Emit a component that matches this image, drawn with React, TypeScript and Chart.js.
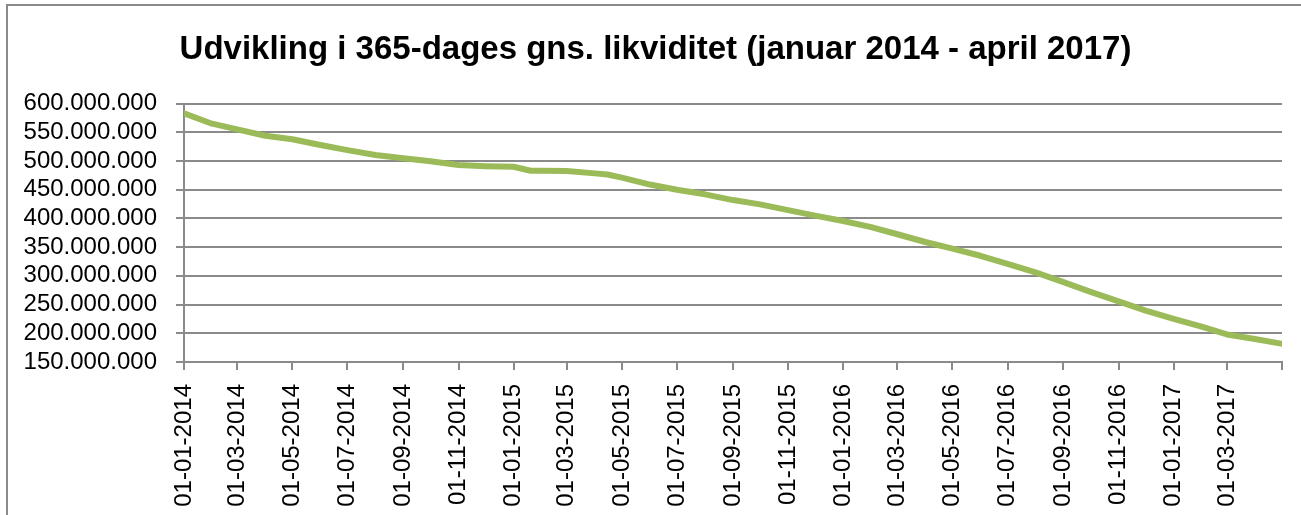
import React, { useEffect, useRef } from "react";
import { Chart, registerables } from "chart.js";

Chart.register(...registerables);

const titleText = "Udvikling i 365-dages gns. likviditet (januar 2014 - april 2017)";

// Dates of the read points and the 365-day average liquidity (in millions)
const dates = [
  "2014-01-01", "2014-02-01", "2014-03-01", "2014-04-01", "2014-05-01", "2014-06-01",
  "2014-07-01", "2014-08-01", "2014-09-01", "2014-10-01", "2014-11-01", "2014-12-01",
  "2015-01-01", "2015-01-20", "2015-02-01", "2015-03-01", "2015-04-01", "2015-04-15",
  "2015-05-01", "2015-06-01", "2015-07-01", "2015-08-01", "2015-09-01", "2015-10-01",
  "2015-11-01", "2015-12-01", "2016-01-01", "2016-02-01", "2016-03-01", "2016-04-01",
  "2016-05-01", "2016-06-01", "2016-07-01", "2016-08-01", "2016-09-01", "2016-10-01",
  "2016-11-01", "2016-12-01", "2017-01-01", "2017-02-01", "2017-03-01", "2017-04-01",
  "2017-04-30",
];
const valuesMio = [
  583, 565, 555, 544, 538, 528,
  519, 510.5, 505, 499.5, 493, 491,
  490, 483, 483, 482.5, 478.5, 476.5,
  471, 459, 450, 442, 432, 424.5,
  414.5, 405, 395.5, 385, 372.5, 359,
  347.5, 335, 321, 306, 289, 272,
  255.5, 239.5, 225, 211.5, 198, 190,
  182,
];

const xTickDates = [
  "2014-01-01", "2014-03-01", "2014-05-01", "2014-07-01", "2014-09-01", "2014-11-01",
  "2015-01-01", "2015-03-01", "2015-05-01", "2015-07-01", "2015-09-01", "2015-11-01",
  "2016-01-01", "2016-03-01", "2016-05-01", "2016-07-01", "2016-09-01", "2016-11-01",
  "2017-01-01", "2017-03-01", "2017-05-01",
];
const xTickLabels = [
  "01-01-2014", "01-03-2014", "01-05-2014", "01-07-2014", "01-09-2014", "01-11-2014",
  "01-01-2015", "01-03-2015", "01-05-2015", "01-07-2015", "01-09-2015", "01-11-2015",
  "01-01-2016", "01-03-2016", "01-05-2016", "01-07-2016", "01-09-2016", "01-11-2016",
  "01-01-2017", "01-03-2017", "",
];

const yTickValues = [150e6, 200e6, 250e6, 300e6, 350e6, 400e6, 450e6, 500e6, 550e6, 600e6];
const yTickLabels = [
  "150.000.000", "200.000.000", "250.000.000", "300.000.000", "350.000.000",
  "400.000.000", "450.000.000", "500.000.000", "550.000.000", "600.000.000",
];

const dayIndex = (s: string) => {
  const [y, m, d] = s.split("-").map(Number);
  return Math.round((Date.UTC(y, m - 1, d) - Date.UTC(2014, 0, 1)) / 86400000);
};

const W = 1301;
const H = 515;

export default function App() {
  const ref = useRef<HTMLCanvasElement | null>(null);

  useEffect(() => {
    if (!ref.current) return;
    const xTicks = xTickDates.map(dayIndex);
    const gridColor = "#8a8a8a";
    const font = "'Liberation Sans', Arial, sans-serif";
    const shiftTitle = {
      id: "shiftTitle",
      afterLayout(chart: any) {
        const tb = chart.titleBlock;
        if (tb) tb.left = tb.left + 29;
      },
    };
    const chart = new Chart(ref.current, {
      type: "line",
      data: {
        datasets: [
          {
            data: dates.map((d, i) => ({ x: dayIndex(d), y: valuesMio[i] * 1e6 })),
            borderColor: "#9BBB59",
            backgroundColor: "#9BBB59",
            borderWidth: 6,
            pointRadius: 0,
            tension: 0,
            borderCapStyle: "round",
            borderJoinStyle: "round",
          },
        ],
      },
      plugins: [shiftTitle],
      options: {
        responsive: false,
        animation: false,
        devicePixelRatio: 1,
        layout: { padding: { top: 10, left: 0, right: 19, bottom: 0 } },
        plugins: {
          legend: { display: false },
          tooltip: { enabled: false },
          title: {
            display: true,
            text: titleText,
            color: "#000",
            font: { family: font, size: 33, weight: "bold", lineHeight: 1.2 },
            padding: { top: 20, bottom: 34 },
          },
        },
        scales: {
          x: {
            type: "linear",
            min: xTicks[0],
            max: xTicks[xTicks.length - 1],
            afterBuildTicks: (scale: any) => {
              scale.ticks = xTicks.map((v) => ({ value: v }));
            },
            afterFit: (scale: any) => {
              scale.height = 153;
              scale.paddingLeft = 0;
              scale.paddingRight = 0;
            },
            ticks: {
              autoSkip: false,
              minRotation: 90,
              maxRotation: 90,
              padding: 14,
              color: "#000",
              font: { family: font, size: 24 },
              callback: (value: any) => {
                const idx = xTicks.indexOf(Number(value));
                return idx >= 0 ? xTickLabels[idx] : "";
              },
            },
            grid: {
              drawOnChartArea: false,
              drawTicks: true,
              tickLength: 8,
              color: gridColor,
              lineWidth: 2,
            },
            border: { display: true, color: gridColor, width: 2 },
          },
          y: {
            type: "linear",
            min: yTickValues[0],
            max: yTickValues[yTickValues.length - 1],
            afterBuildTicks: (scale: any) => {
              scale.ticks = yTickValues.map((v) => ({ value: v }));
            },
            afterFit: (scale: any) => {
              scale.width = 184;
            },
            ticks: {
              autoSkip: false,
              padding: 19,
              color: "#000",
              font: { family: font, size: 24 },
              callback: (value: any) => {
                const idx = yTickValues.indexOf(Number(value));
                return idx >= 0 ? yTickLabels[idx] : "";
              },
            },
            grid: {
              drawOnChartArea: true,
              drawTicks: true,
              tickLength: 8,
              color: gridColor,
              lineWidth: 2,
            },
            border: { display: true, color: gridColor, width: 2 },
          },
        },
      },
    } as any);
    return () => chart.destroy();
  }, []);

  return (
    <div
      style={{
        position: "fixed",
        left: 0,
        top: 0,
        width: W,
        height: H,
        overflow: "hidden",
        background: "#fff",
      }}
    >
      <div
        style={{
          position: "absolute",
          left: 6,
          top: 4,
          width: 1500,
          height: 800,
          border: "2px solid #8a8a8a",
          boxSizing: "border-box",
        }}
      />
      <canvas
        ref={ref}
        width={W}
        height={H}
        style={{ position: "absolute", left: 0, top: 0, width: W, height: H }}
      />
    </div>
  );
}
